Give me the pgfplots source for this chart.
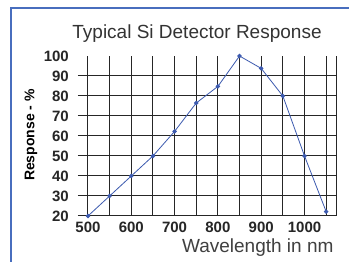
\documentclass[border=0pt]{standalone}
\usepackage{fontspec}
\setmainfont{Liberation Sans}
\usepackage{pgfplots}
\pgfplotsset{compat=1.18}
\definecolor{frameblue}{RGB}{72,110,190}
\definecolor{lineblue}{RGB}{60,90,175}
\begin{document}
\begin{tikzpicture}[x=1pt,y=1pt]
\fill[white] (0,0) rectangle (349,262);
\draw[frameblue, line width=2.5pt] (11,-20) -- (11,254) -- (370,254);
\begin{axis}[at={(78pt,46pt)}, anchor=south west, scale only axis, width=259pt, height=160pt,
 xmin=477, xmax=1075, ymin=20, ymax=100,
 axis line style={draw=none},
 xtick={500,600,...,1000}, minor xtick={550,650,...,1050},
 extra x ticks={1075}, extra x tick labels={},
 ytick={20,30,...,90}, extra y ticks={100}, extra y tick style={grid=none},
 xmajorgrids, xminorgrids, ymajorgrids,
 major tick length=0pt, minor tick length=0pt,
 grid style={black!85, line width=1pt},
 minor grid style={black!85, line width=1pt},
 tick label style={font=\fontsize{15}{15}\selectfont\bfseries, text=black!85},
 /pgf/number format/assume math mode=true,
 /pgf/number format/1000 sep={},
 yticklabel style={inner sep=0pt, xshift=-9pt},
 xticklabel style={inner sep=0pt, yshift=-6pt},
 clip=false,
]
\addplot[lineblue, line width=0.8pt, mark=*, mark size=1.8pt, mark options={fill=lineblue, draw=lineblue}] coordinates {
(500,20) (550,30) (600,40) (650,50) (700,62.3) (750,76.5) (800,84.8) (850,100) (900,93.8) (950,80) (1000,50) (1050,22.2)};
\end{axis}
\node[anchor=base, font=\fontsize{19}{19}\selectfont, text=black!80] at (197,223) {Typical Si Detector Response};
\node[anchor=base east, font=\fontsize{19}{19}\selectfont, text=black!75] at (337,9.5) {Wavelength in nm};
\node[rotate=90, font=\fontsize{14}{14}\selectfont\bfseries] at (31,127) {Response - \%};
\pgfresetboundingbox
\useasboundingbox (0,0) rectangle (349,262);
\end{tikzpicture}
\end{document}
